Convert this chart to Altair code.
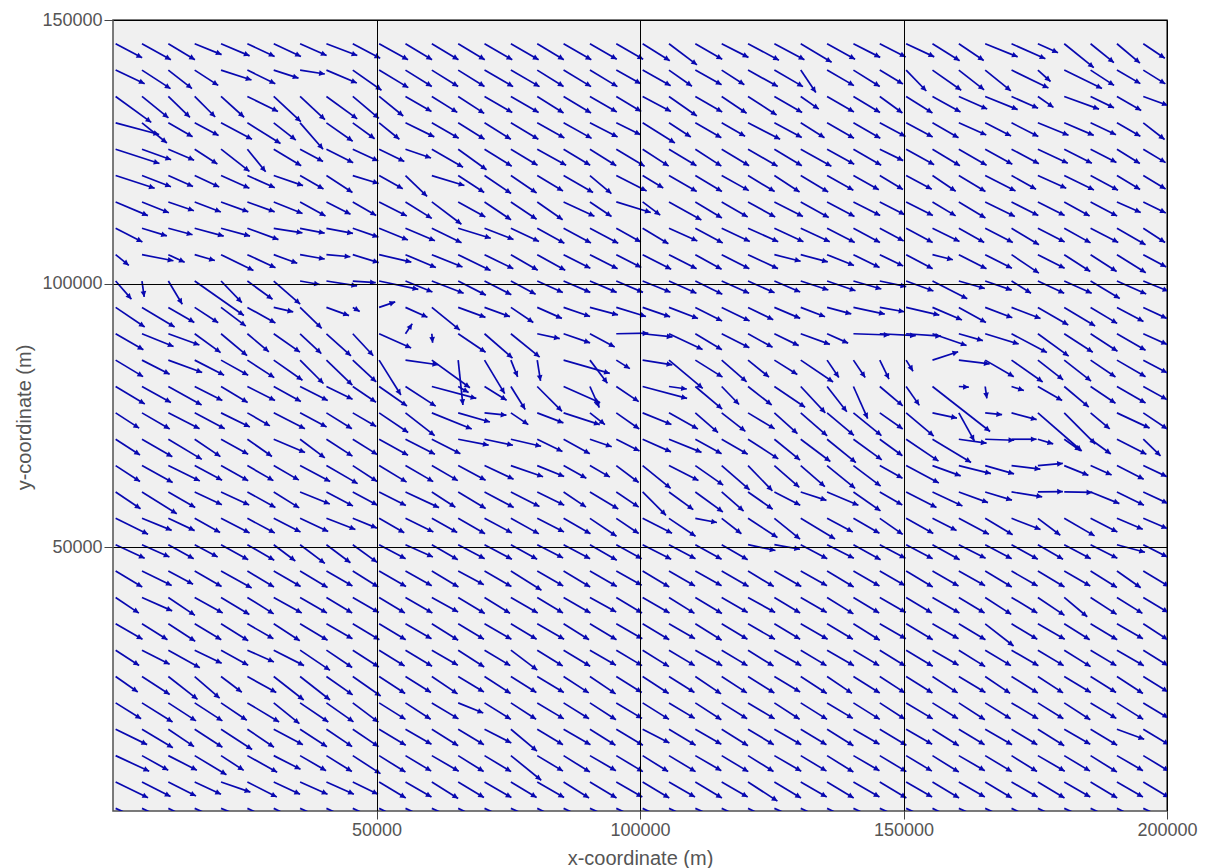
import math

import altair as alt
import pandas as pd

# Sampling nodes of the velocity field (metres)
x_nodes = [500, 5500, 10500, 15500, 20500, 25500, 30500, 35500, 40500, 45500,
           50500, 55500, 60500, 65500, 70500, 75500, 80500, 85500, 90500, 95500,
           100500, 105500, 110500, 115500, 120500, 125500, 130500, 135500, 140500, 145500,
           150500, 155500, 160500, 165500, 170500, 175500, 180500, 185500, 190500, 195500]
y_nodes = [145500, 140500, 135500, 130500, 125500, 120500, 115500, 110500, 105500, 100500,
           95500, 90500, 85500, 80500, 75500, 70500, 65500, 60500, 55500, 50500,
           45500, 40500, 35500, 30500, 25500, 20500, 15500, 10500, 5500, 500]

# Flow direction per node, degrees clockwise from east (rows north -> south, columns west -> east)
heading = [
    [28, 29, 31, 22, 23, 25, 25, 24, 21, 28, 29, 31, 31, 31, 30, 30, 31, 30, 30, 30, 32, 37, 30, 27, 28, 28, 31, 29, 27, 27, 25, 32, 34, 22, 24, 24, 39, 39, 40, 34],
    [25, 33, 38, 33, 18, 26, 18, 9, 23, 35, 31, 32, 32, 32, 30, 30, 32, 31, 31, 29, 29, 35, 29, 33, 29, 30, 56, 30, 32, 31, 46, 35, 38, 39, 26, 42, 26, 33, 30, 32],
    [36, 39, 44, 45, 42, 26, 43, 43, 36, 40, 39, 30, 32, 33, 30, 30, 32, 31, 30, 31, 28, 35, 30, 34, 33, 30, 35, 30, 31, 36, 32, 29, 24, 22, 24, 35, 20, 26, 30, 20],
    [15, 39, 30, 28, 28, 32, 38, 49, 35, 36, 39, 26, 30, 32, 32, 31, 29, 29, 27, 26, 32, 33, 30, 30, 27, 28, 32, 30, 30, 28, 28, 30, 24, 27, 27, 22, 23, 25, 30, 38],
    [18, 20, 23, 33, 38, 51, 31, 28, 27, 25, 26, 19, 30, 36, 32, 31, 29, 31, 32, 31, 33, 31, 33, 31, 30, 31, 29, 29, 30, 26, 29, 31, 30, 29, 28, 25, 27, 27, 32, 31],
    [18, 21, 24, 25, 24, 24, 19, 30, 33, 17, 29, 44, 17, 33, 34, 34, 31, 30, 40, 27, 31, 30, 31, 29, 31, 33, 31, 29, 29, 31, 28, 34, 31, 27, 29, 24, 26, 28, 31, 31],
    [23, 22, 19, 21, 20, 20, 22, 29, 27, 30, 27, 32, 37, 29, 34, 34, 35, 25, 34, 17, 37, 29, 31, 30, 29, 27, 29, 28, 27, 27, 27, 31, 31, 26, 27, 27, 29, 28, 24, 26],
    [27, 17, 15, 15, 15, 20, 9, 11, 11, 19, 22, 23, 26, 17, 21, 25, 29, 28, 28, 29, 31, 24, 28, 25, 24, 25, 25, 27, 28, 28, 28, 26, 29, 27, 31, 27, 29, 27, 30, 33],
    [39, 11, 25, 16, 26, 25, 20, 10, 5, 17, 13, 23, 22, 26, 26, 30, 29, 27, 27, 27, 27, 27, 29, 27, 25, 14, 15, 22, 26, 26, 28, 14, 27, 27, 34, 27, 33, 33, 32, 28],
    [49, 82, 59, 35, 46, 36, 41, 10, 9, 4, 12, 22, 21, 27, 27, 28, 24, 23, 23, 23, 22, 24, 26, 24, 24, 23, 18, 19, 16, 12, 20, 27, 16, 19, 32, 25, 24, 31, 24, 22],
    [34, 31, 30, 33, 37, 29, 13, 44, 20, 30, -19, 24, 39, 20, 20, 34, 24, 19, 15, 17, 19, 21, 27, 26, 26, 23, 21, 15, 12, 10, 13, 23, 29, 21, 21, 30, 31, 31, 28, 25],
    [30, 22, 20, 36, 40, 40, 35, 43, 42, 47, 24, -56, 85, 34, 41, 39, 12, 19, 28, -1, 6, 25, 31, 27, 29, 26, 20, 24, 2, 3, 4, 19, 16, 17, 28, 36, 33, 33, 30, 24],
    [31, 27, 20, 27, 29, 33, 35, 45, 44, 43, 58, 8, 36, 84, 59, 68, 81, 16, 53, 32, 9, 40, 32, 41, 39, 32, 34, 56, 56, 64, 58, -18, 7, 30, 35, 38, 38, 34, 30, 28],
    [31, 29, 29, 27, 31, 27, 29, 27, 26, 34, 35, 33, 15, 30, 32, 58, 45, 24, 66, 34, 15, 8, 40, 46, 38, 34, 47, 52, 66, 40, 55, 38, 4, 82, 18, 30, 40, 34, 30, 29],
    [33, 30, 27, 28, 26, 30, 27, 28, 32, 30, 34, 38, 22, 16, 6, 34, 21, 18, 38, 35, 22, 29, 41, 38, 31, 42, 41, 40, 39, 35, 40, 12, 61, 6, 15, 41, 45, 40, 25, 34],
    [33, 30, 31, 34, 29, 35, 23, 37, 33, 32, 29, 27, 27, 11, 12, 13, 26, 29, 19, 27, 24, 22, 29, 30, 33, 39, 37, 39, 36, 36, 34, 31, 8, 2, 0, 17, 35, 36, 27, 44],
    [33, 29, 26, 28, 29, 30, 30, 28, 30, 33, 31, 30, 30, 28, 25, 19, 22, 29, 30, 37, 39, 27, 35, 41, 46, 41, 41, 39, 37, 29, 28, 20, 14, 16, 7, -5, 22, 24, 27, 25],
    [34, 32, 30, 25, 25, 29, 32, 22, 28, 28, 27, 25, 33, 31, 28, 27, 26, 34, 31, 34, 45, 36, 36, 41, 35, 27, 18, 23, 35, 30, 27, 25, 20, 17, 9, -1, 1, 22, 26, 25],
    [26, 22, 25, 29, 27, 28, 27, 25, 21, 22, 30, 26, 29, 30, 28, 29, 27, 30, 34, 34, 27, 34, 11, 38, 33, 39, 31, 28, 30, 35, 29, 27, 28, 31, 21, 37, 30, 27, 23, 23],
    [25, 24, 29, 28, 29, 30, 37, 37, 37, 36, 28, 24, 30, 28, 28, 29, 27, 28, 30, 29, 27, 28, 29, 30, 12, 10, 28, 27, 29, 28, 28, 29, 27, 28, 29, 30, 28, 27, 15, 27],
    [31, 26, 28, 30, 29, 31, 30, 31, 30, 32, 30, 29, 31, 28, 30, 32, 30, 31, 30, 29, 31, 30, 29, 30, 31, 30, 29, 31, 30, 30, 31, 30, 29, 31, 30, 31, 30, 32, 35, 31],
    [34, 24, 34, 29, 31, 32, 29, 30, 31, 30, 31, 30, 29, 31, 32, 30, 31, 30, 29, 31, 30, 32, 31, 30, 29, 31, 30, 32, 31, 30, 31, 30, 31, 33, 31, 34, 40, 33, 32, 31],
    [30, 32, 33, 31, 32, 30, 33, 31, 30, 31, 31, 30, 32, 31, 30, 31, 30, 32, 31, 30, 31, 30, 32, 31, 30, 31, 30, 31, 32, 30, 31, 30, 31, 38, 31, 30, 32, 31, 30, 33],
    [33, 27, 29, 26, 29, 24, 27, 34, 34, 33, 32, 31, 30, 33, 31, 37, 32, 31, 30, 31, 32, 31, 30, 31, 32, 30, 31, 30, 31, 32, 31, 30, 32, 31, 30, 31, 32, 31, 30, 32],
    [35, 33, 38, 41, 37, 29, 38, 38, 35, 35, 33, 32, 34, 31, 33, 32, 31, 33, 34, 32, 33, 32, 34, 33, 32, 31, 33, 34, 32, 33, 32, 33, 31, 34, 32, 33, 31, 32, 33, 32],
    [32, 32, 33, 33, 34, 31, 39, 34, 35, 37, 32, 33, 31, 22, 32, 33, 31, 32, 33, 31, 32, 31, 33, 32, 31, 33, 32, 31, 32, 33, 31, 32, 33, 32, 31, 32, 33, 31, 32, 31],
    [26, 31, 34, 33, 33, 34, 28, 33, 34, 34, 31, 30, 32, 31, 27, 40, 31, 30, 32, 31, 27, 31, 30, 32, 31, 30, 31, 32, 30, 31, 30, 32, 31, 30, 31, 32, 30, 31, 20, 31],
    [25, 29, 27, 31, 33, 29, 27, 30, 32, 33, 32, 31, 30, 32, 31, 39, 31, 32, 30, 31, 32, 31, 30, 31, 32, 30, 31, 32, 30, 31, 31, 32, 30, 31, 32, 30, 31, 32, 30, 31],
    [26, 27, 27, 25, 19, 27, 25, 24, 24, 26, 31, 30, 32, 31, 30, 31, 30, 32, 31, 30, 31, 30, 31, 30, 33, 31, 30, 31, 30, 31, 30, 31, 30, 31, 30, 31, 30, 31, 30, 31],
    [24, 25, 26, 24, 22, 25, 26, 24, 25, 25, 26, 25, 24, 26, 25, 24, 26, 25, 24, 25, 26, 25, 24, 25, 26, 24, 25, 26, 25, 24, 25, 26, 24, 25, 26, 25, 24, 25, 26, 25],
]

# Flow speed per node (cm/s), same layout as heading
speed = [
    [30, 33, 31, 29, 31, 30, 30, 29, 33, 31, 33, 31, 31, 31, 32, 32, 31, 32, 31, 31, 32, 35, 31, 30, 35, 34, 36, 32, 30, 29, 31, 32, 30, 35, 37, 22, 38, 30, 30, 26],
    [32, 34, 30, 28, 32, 31, 26, 25, 33, 35, 34, 31, 31, 31, 33, 33, 31, 32, 32, 28, 32, 28, 30, 27, 34, 33, 27, 31, 31, 27, 29, 35, 32, 33, 41, 17, 42, 28, 27, 26],
    [44, 34, 30, 29, 31, 34, 37, 34, 38, 34, 31, 30, 30, 31, 32, 32, 31, 32, 31, 29, 32, 34, 31, 30, 34, 32, 22, 31, 31, 28, 31, 32, 31, 35, 29, 19, 37, 26, 28, 26],
    [45, 32, 28, 27, 35, 39, 28, 35, 32, 27, 26, 32, 31, 31, 31, 32, 31, 32, 31, 27, 38, 26, 30, 27, 36, 31, 28, 31, 31, 29, 30, 30, 30, 29, 30, 33, 32, 28, 27, 27],
    [46, 31, 28, 27, 36, 29, 32, 26, 30, 28, 28, 27, 36, 35, 32, 31, 33, 31, 31, 33, 31, 32, 31, 32, 34, 32, 35, 31, 32, 26, 32, 32, 32, 31, 31, 33, 31, 29, 27, 26],
    [41, 31, 27, 27, 31, 30, 31, 27, 31, 27, 27, 30, 34, 31, 32, 31, 30, 34, 28, 34, 24, 32, 31, 31, 31, 30, 32, 30, 29, 27, 29, 28, 31, 34, 28, 31, 33, 31, 27, 26],
    [35, 29, 27, 28, 29, 29, 31, 29, 27, 27, 31, 31, 37, 31, 32, 31, 31, 34, 26, 36, 22, 37, 31, 30, 31, 32, 32, 31, 30, 28, 30, 27, 31, 33, 30, 30, 29, 30, 26, 25],
    [30, 26, 25, 30, 30, 33, 29, 25, 27, 27, 31, 32, 33, 34, 31, 31, 31, 31, 32, 28, 30, 31, 31, 31, 33, 32, 32, 31, 30, 27, 30, 30, 29, 31, 32, 30, 30, 31, 33, 26],
    [17, 32, 18, 21, 36, 31, 25, 25, 24, 27, 33, 33, 33, 36, 32, 31, 32, 30, 31, 28, 32, 31, 30, 31, 33, 27, 28, 29, 29, 26, 30, 21, 31, 30, 33, 30, 31, 31, 34, 26],
    [24, 16, 27, 60, 30, 31, 35, 20, 31, 23, 40, 29, 34, 31, 30, 28, 28, 29, 29, 29, 30, 30, 30, 30, 29, 28, 29, 30, 29, 27, 29, 39, 27, 28, 23, 29, 30, 34, 32, 27],
    [35, 38, 30, 28, 31, 32, 20, 30, 24, 8, 17, 24, 36, 29, 27, 27, 27, 28, 29, 31, 29, 31, 30, 31, 28, 28, 26, 25, 32, 25, 34, 32, 31, 29, 31, 35, 36, 31, 30, 26],
    [32, 34, 33, 32, 34, 28, 32, 29, 33, 30, 35, 12, 9, 33, 37, 37, 23, 28, 28, 32, 30, 37, 31, 31, 28, 27, 31, 23, 36, 36, 35, 36, 25, 35, 40, 38, 34, 32, 33, 26],
    [32, 31, 36, 33, 31, 32, 35, 33, 36, 32, 41, 33, 47, 45, 39, 18, 21, 48, 29, 16, 30, 44, 32, 33, 27, 27, 39, 21, 21, 21, 13, 27, 31, 33, 38, 32, 34, 30, 33, 27],
    [34, 33, 38, 31, 31, 31, 31, 31, 29, 28, 34, 36, 46, 12, 26, 27, 35, 40, 23, 27, 46, 18, 35, 25, 30, 37, 36, 32, 35, 30, 23, 73, 10, 12, 13, 28, 32, 30, 33, 27],
    [28, 32, 35, 34, 32, 26, 35, 30, 30, 27, 35, 37, 43, 33, 22, 21, 28, 38, 19, 28, 31, 33, 30, 30, 31, 31, 35, 35, 36, 28, 36, 25, 32, 17, 26, 58, 44, 25, 36, 29],
    [29, 35, 39, 31, 31, 30, 34, 31, 31, 29, 33, 33, 32, 31, 29, 31, 28, 30, 23, 26, 31, 35, 30, 30, 36, 33, 37, 37, 35, 28, 39, 45, 28, 29, 25, 16, 20, 25, 33, 24],
    [29, 35, 35, 31, 31, 30, 29, 34, 36, 29, 32, 32, 30, 31, 32, 34, 29, 26, 23, 28, 36, 33, 34, 37, 35, 33, 32, 36, 34, 26, 37, 30, 33, 30, 29, 25, 26, 23, 30, 26],
    [30, 41, 31, 30, 31, 32, 30, 32, 30, 28, 30, 37, 28, 32, 33, 32, 30, 27, 33, 27, 33, 30, 34, 29, 30, 29, 27, 34, 33, 26, 34, 33, 31, 28, 31, 25, 28, 31, 30, 27],
    [36, 32, 29, 29, 32, 31, 30, 31, 31, 26, 29, 31, 29, 31, 31, 32, 30, 31, 32, 27, 33, 32, 22, 25, 35, 33, 40, 29, 30, 28, 31, 27, 34, 32, 31, 28, 35, 30, 28, 26],
    [32, 30, 29, 26, 31, 31, 27, 31, 30, 30, 30, 30, 30, 30, 31, 30, 29, 30, 31, 29, 32, 30, 30, 30, 28, 26, 30, 30, 31, 29, 30, 31, 30, 30, 30, 29, 30, 30, 29, 27],
    [31, 33, 28, 31, 35, 31, 31, 32, 30, 30, 31, 30, 31, 29, 31, 36, 30, 31, 31, 29, 31, 30, 30, 31, 30, 31, 30, 31, 30, 29, 31, 30, 30, 31, 30, 31, 30, 31, 29, 30],
    [28, 33, 32, 32, 33, 31, 32, 31, 30, 30, 30, 31, 30, 31, 30, 31, 30, 31, 30, 30, 31, 30, 31, 30, 31, 30, 30, 31, 30, 30, 30, 31, 30, 31, 30, 32, 30, 31, 30, 29],
    [31, 30, 32, 31, 32, 30, 31, 32, 30, 31, 31, 30, 31, 30, 31, 30, 31, 30, 31, 30, 31, 30, 31, 30, 31, 30, 31, 30, 31, 30, 31, 30, 31, 36, 30, 31, 30, 31, 30, 29],
    [28, 31, 36, 30, 31, 29, 34, 36, 31, 31, 30, 31, 30, 31, 30, 33, 30, 31, 30, 30, 31, 30, 31, 30, 30, 31, 30, 31, 30, 30, 31, 30, 31, 30, 31, 30, 31, 30, 31, 29],
    [27, 33, 37, 33, 26, 33, 38, 38, 32, 34, 31, 30, 31, 30, 31, 30, 31, 30, 31, 30, 31, 30, 31, 30, 31, 30, 31, 30, 31, 30, 31, 30, 31, 30, 31, 30, 31, 30, 31, 29],
    [30, 36, 33, 33, 31, 37, 33, 34, 33, 32, 31, 30, 31, 27, 31, 30, 31, 30, 31, 30, 31, 30, 31, 30, 31, 30, 31, 30, 31, 30, 31, 30, 31, 30, 31, 30, 31, 30, 31, 29],
    [35, 36, 31, 33, 37, 32, 33, 32, 31, 31, 31, 30, 31, 30, 30, 34, 30, 31, 30, 31, 30, 31, 30, 31, 30, 31, 30, 31, 30, 31, 30, 31, 30, 31, 30, 31, 30, 31, 29, 30],
    [37, 30, 32, 37, 27, 34, 30, 30, 30, 33, 31, 30, 31, 30, 31, 39, 30, 31, 30, 31, 30, 31, 30, 31, 30, 31, 30, 31, 30, 31, 30, 31, 30, 31, 30, 31, 30, 31, 30, 30],
    [36, 32, 31, 29, 31, 33, 29, 30, 30, 28, 31, 30, 31, 30, 31, 30, 31, 30, 31, 30, 31, 30, 31, 30, 35, 31, 30, 31, 30, 31, 30, 31, 30, 31, 30, 31, 30, 31, 30, 30],
    [32, 31, 30, 30, 30, 31, 30, 30, 30, 30, 31, 30, 30, 31, 30, 30, 31, 30, 30, 31, 30, 30, 31, 30, 30, 31, 30, 30, 31, 30, 30, 31, 30, 30, 31, 30, 30, 31, 30, 30],
]

# Quiver scale: metres of arrow per cm/s of speed
ARROW_M_PER_UNIT = 190.0
ARROW_BLUE = "#0808b0"

records = []
for y, h_row, s_row in zip(y_nodes, heading, speed):
    for x, h, s in zip(x_nodes, h_row, s_row):
        rad = math.radians(h)
        length = s * ARROW_M_PER_UNIT
        records.append({
            "x": x,
            "y": y,
            "x_tip": x + length * math.cos(rad),
            "y_tip": y - length * math.sin(rad),
            "rot": h % 360,
        })
field = pd.DataFrame(records)

x_scale = alt.Scale(domain=[0, 200000], nice=False, zero=False)
y_scale = alt.Scale(domain=[0, 150000], nice=False, zero=False)

TEXT_FONT = "Liberation Sans"
TEXT_GREY = "#555555"

axis_style = dict(
    format="d",
    grid=True,
    gridColor="#000000",
    gridOpacity=1,
    gridWidth=1,
    domain=False,
    ticks=True,
    tickColor="#444444",
    tickWidth=1,
    labelColor=TEXT_GREY,
    labelFont=TEXT_FONT,
    labelFontSize=18,
    titleColor=TEXT_GREY,
    titleFont=TEXT_FONT,
    titleFontSize=20,
    titleFontWeight="normal",
    zindex=1,
)

x_axis = alt.Axis(
    values=[50000, 100000, 150000, 200000],
    title="x-coordinate (m)",
    tickSize=8,
    labelAlign="center",
    labelPadding=2,
    titleX=527,
    titleY=47,
    titleAlign="center",
    titleBaseline="middle",
    **axis_style,
)
y_axis = alt.Axis(
    values=[50000, 100000, 150000],
    title="y-coordinate (m)",
    tickSize=9,
    labelPadding=2,
    labelBaseline="middle",
    titleX=-89,
    titleY=397,
    titleAlign="center",
    titleBaseline="middle",
    titleAngle=270,
    **axis_style,
)

shafts = alt.Chart(field).mark_rule(
    color=ARROW_BLUE, strokeWidth=1.7, clip=True
).encode(
    x=alt.X("x:Q", scale=x_scale, axis=x_axis),
    y=alt.Y("y:Q", scale=y_scale, axis=y_axis),
    x2="x_tip:Q",
    y2="y_tip:Q",
)

heads = alt.Chart(field).mark_point(
    shape="M0,0L-1,-0.5L-1,0.5Z",
    filled=True,
    size=130,
    color=ARROW_BLUE,
    opacity=1,
    strokeWidth=0,
    clip=True,
).encode(
    x=alt.X("x_tip:Q", scale=x_scale, axis=x_axis),
    y=alt.Y("y_tip:Q", scale=y_scale, axis=y_axis),
    angle=alt.Angle("rot:Q", scale=None),
)

chart = (
    alt.layer(shafts, heads)
    .properties(
        width=1054,
        height=791,
        autosize=alt.AutoSizeParams(type="none"),
        padding={"left": 113, "top": 20, "right": 46, "bottom": 57},
        background="#ffffff",
    )
    .configure_view(fill="#f0f0f0", stroke="#505050", strokeWidth=1.5)
)

chart.save("out.html", embed_options={"renderer": "svg", "actions": False})
